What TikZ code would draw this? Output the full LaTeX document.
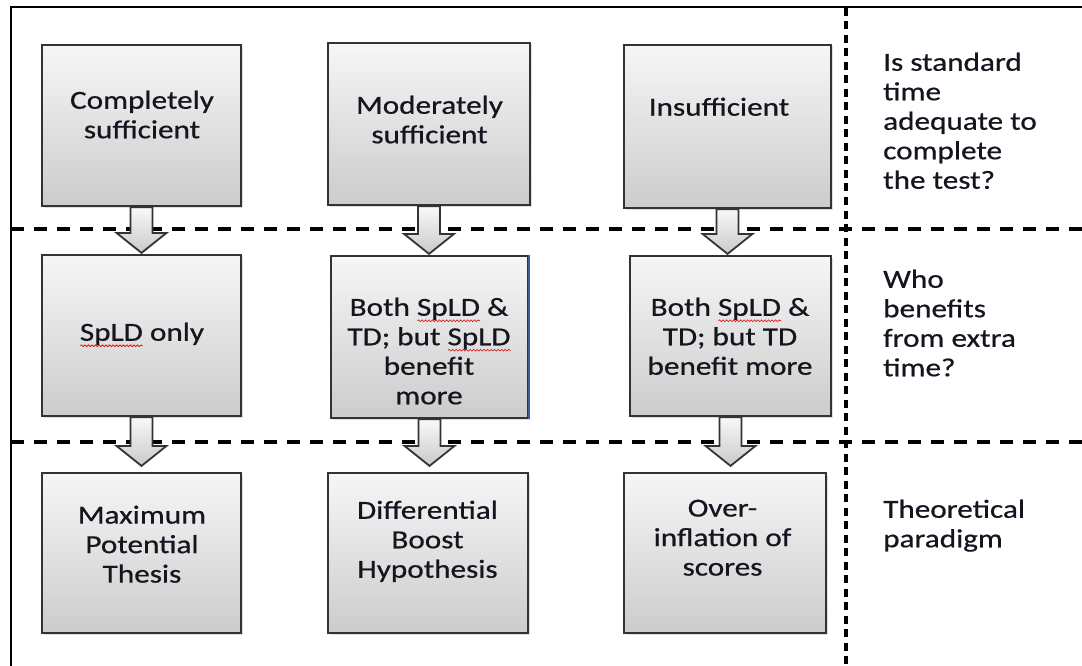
\documentclass[tikz,border=0pt]{standalone}
\usepackage{fontspec}
\setmainfont{Carlito}[FakeStretch=1.2, FakeBold=0.6]
\usetikzlibrary{calc,shadows,decorations.pathmorphing}
\definecolor{boxline}{HTML}{333333}
\definecolor{txt}{HTML}{15151F}
\definecolor{selblue}{HTML}{3A5F9A}
\newsavebox\spbox
\newcommand\spellerr[1]{\sbox\spbox{#1}\rlap{\usebox\spbox}\tikz[baseline=0pt,x=1pt,y=1pt]{\useasboundingbox (0pt,0pt) rectangle (\wd\spbox,1pt); \draw[red!85!black,line width=0.6pt,decorate,decoration={snake,amplitude=0.9pt,segment length=3.5pt}] (0.5pt,-5pt) -- (\wd\spbox,-5pt);}}
\newcommand\blockarrow[3]{%
  \path[barrow] let \p1=(#1.south), \p2=(#2.north) in
    (\x1-11pt,\y1) -- (\x1-11pt,\y2+#3pt+20pt) -- (\x1-25pt,\y2+#3pt+20pt)
    -- (\x1,\y2+#3pt) -- (\x1+25pt,\y2+#3pt+20pt) -- (\x1+11pt,\y2+#3pt+20pt)
    -- (\x1+11pt,\y1) -- cycle;}
\tikzset{
  box/.style={draw=boxline, line width=2.2pt, inner sep=0pt, top color=gray!7, bottom color=gray!40,
    drop shadow={shadow xshift=1.5pt, shadow yshift=-1.5pt, opacity=0.25}},
  boxtext/.style={anchor=north, inner sep=0pt, align=center, text=txt, font=\fontsize{26}{29.5}\selectfont},
  sidetext/.style={anchor=north west, inner sep=0pt, align=left, text=txt, font=\fontsize{26}{29.5}\selectfont},
  barrow/.style={draw=boxline, line width=1.8pt, top color=gray!5, bottom color=gray!42},
  hdash/.style={line width=3.4pt, dash pattern=on 13pt off 10pt},
  vdash/.style={line width=3.4pt, dash pattern=on 8pt off 5.5pt},
  frame/.style={line width=2.6pt, black}
}
\begin{document}
\begin{tikzpicture}[x=1pt,y=-1pt]
\useasboundingbox (0,0) rectangle (1082,666);
% frame and grid lines
\coordinate (fbl) at (11,666);
\coordinate (ftl) at (11,7);
\coordinate (ftr) at (1082,7);
\draw[frame] (fbl) -- (ftl) -- (ftr);
\coordinate (h1l) at (11,229);
\coordinate (h1r) at (1082,229);
\coordinate (h2l) at (11,442);
\coordinate (h2r) at (1082,442);
\coordinate (vt) at (846,8);
\coordinate (vb) at (846,666);
\draw[hdash] (h1l) -- (h1r);
\draw[hdash] (h2l) -- (h2r);
\draw[vdash] (vt) -- (vb);
% boxes
\node[box, minimum width=199pt, minimum height=161pt] (b11) at (141.5,125.5) {};
\node[box, minimum width=202pt, minimum height=162pt] (b12) at (429,124) {};
\node[box, minimum width=207pt, minimum height=163pt] (b13) at (727.5,126.5) {};
\node[box, minimum width=199pt, minimum height=161pt] (b21) at (141.5,335.5) {};
\node[box, minimum width=197pt, minimum height=162pt] (b22) at (429.5,337) {};
\node[box, minimum width=201pt, minimum height=160pt] (b23) at (730.5,336) {};
\node[box, minimum width=199pt, minimum height=160pt] (b31) at (141.5,553) {};
\node[box, minimum width=200pt, minimum height=160pt] (b32) at (428,553) {};
\node[box, minimum width=202pt, minimum height=160pt] (b33) at (725,553) {};
\draw[selblue, line width=1.8pt] (b22.north east) -- (b22.south east);
% arrows
\blockarrow{b11}{b21}{1}
\blockarrow{b12}{b22}{1}
\blockarrow{b13}{b23}{1}
\blockarrow{b21}{b31}{6}
\blockarrow{b22}{b32}{6}
\blockarrow{b23}{b33}{6}
% box texts
\node[boxtext] (t11) at (142,90.5) {Completely\\sufficient};
\node[boxtext] (t12) at (429.5,95.5) {Moderately\\sufficient};
\node[boxtext] (t13) at (719,97.5) {Insufficient};
\node[boxtext] (t21) at (142,322.5) {\spellerr{SpLD} only};
\node[boxtext] (t22) at (429,297.5) {Both \spellerr{SpLD} \&\\TD; but \spellerr{SpLD}\\benefit\\more};
\node[boxtext] (t23) at (730,297.5) {Both \spellerr{SpLD} \&\\TD; but TD\\benefit more};
\node[boxtext] (t31) at (142,505.5) {Maximum\\Potential\\Thesis};
\node[boxtext] (t32) at (427.5,500.5) {Differential\\Boost\\Hypothesis};
\node[boxtext] (t33) at (722.5,499.5) {Over-\\inflation of\\scores};
% side texts
\node[sidetext] (s1) at (883,52.5) {Is standard\\time\\adequate to\\complete\\the test?};
\node[sidetext] (s2) at (883,269.5) {Who\\benefits\\from extra\\time?};
\node[sidetext] (s3) at (883,499.5) {Theoretical\\paradigm};
\end{tikzpicture}
\end{document}
